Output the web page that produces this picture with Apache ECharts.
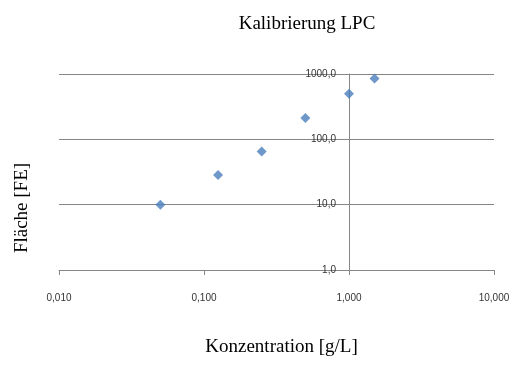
<!DOCTYPE html>
<html>
<head>
<meta charset="utf-8">
<script src="https://cdn.jsdelivr.net/npm/echarts@6/dist/echarts.min.js"></script>
<style>
    html, body { margin: 0; padding: 0; background: #fff; }
    #chart { width: 515px; height: 365px; }
</style>
</head>
<body>
<div id="chart"></div>
<script>
// Konzentration [g/L] vs. Fläche [FE]
let concentration = [0.05, 0.125, 0.25, 0.5, 1.0, 1.5];
let area = [10, 28.5, 65, 213, 500, 850];

let chart = echarts.init(document.getElementById('chart'));

function comma(v, digits) {
    return v.toFixed(digits).replace('.', ',');
}

let points = concentration.map(function (c, i) {
    return [c, area[i]];
});

let option = {
    backgroundColor: '#fff',
    animation: false,
    title: {
        text: 'Kalibrierung LPC',
        left: 302,
        top: 10,
        textAlign: 'center',
        textStyle: {
            fontFamily: 'Liberation Serif',
            fontSize: 19,
            fontWeight: 'normal',
            color: '#000'
        }
    },
    grid: {
        left: 59,
        right: 21,
        top: 74,
        bottom: 95,
        outerBoundsMode: 'none'
    },
    xAxis: {
        type: 'log',
        logBase: 10,
        min: 0.01,
        max: 10,
        name: 'Konzentration [g/L]',
        nameLocation: 'middle',
        nameGap: 68,
        nameTextStyle: {
            fontFamily: 'Liberation Serif',
            fontSize: 19,
            color: '#000',
            padding: [0, 0, 0, 10]
        },
        axisLine: { show: true, lineStyle: { color: '#868686', width: 1 } },
        axisTick: { show: true, length: 5, lineStyle: { color: '#868686' } },
        splitLine: { show: false },
        axisLabel: {
            margin: 23,
            fontFamily: 'Liberation Sans',
            fontSize: 10,
            color: '#333',
            formatter: function (v) { return comma(v, 3); }
        }
    },
    yAxis: {
        type: 'log',
        logBase: 10,
        min: 1,
        max: 1000,
        position: 'left',
        offset: -290,
        axisLine: { show: true, lineStyle: { color: '#868686', width: 1 } },
        axisTick: { show: false },
        splitLine: { show: true, lineStyle: { color: '#868686', width: 1 } },
        axisLabel: {
            margin: 13,
            fontFamily: 'Liberation Sans',
            fontSize: 10,
            color: '#333',
            formatter: function (v) { return comma(v, 1); }
        }
    },
    graphic: [{
        type: 'text',
        x: 22,
        y: 208,
        rotation: Math.PI / 2,
        style: {
            text: 'Fläche [FE]',
            font: '19px "Liberation Serif"',
            fill: '#000',
            align: 'center',
            verticalAlign: 'middle'
        }
    }],
    series: [{
        type: 'scatter',
        symbol: 'diamond',
        symbolSize: 10,
        itemStyle: { color: '#4A7EBB' },
        data: points
    }]
};

chart.setOption(option);
</script>
</body>
</html>
